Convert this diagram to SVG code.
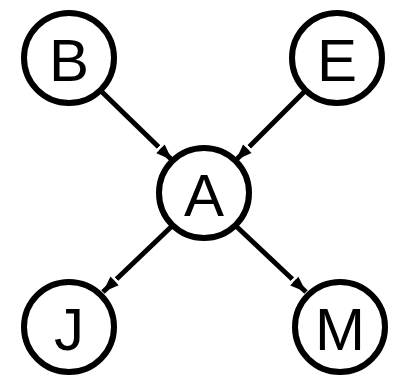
<svg xmlns="http://www.w3.org/2000/svg" width="399" height="378" viewBox="0 0 399 378">
<defs>
<marker id="ah" viewBox="0 0 20 14" refX="19" refY="7" markerWidth="20" markerHeight="14" markerUnits="userSpaceOnUse" orient="auto">
<rect x="0" y="3.5" width="3" height="7" fill="#fff"/>
<path d="M3,1 L19,7 L3,13 z" fill="#000"/>
</marker>
<style>
.node circle{fill:#fff;stroke:#000;stroke-width:6}
.node text{font-family:"Liberation Sans",Arial,sans-serif;font-size:60px;fill:#000;text-anchor:middle;dominant-baseline:central}
.edges line{stroke:#000;stroke-width:5;marker-end:url(#ah)}
</style>
</defs>
<rect width="399" height="378" fill="#fff"/>
<g class="edges">
<line x1="101" y1="91" x2="172" y2="160"/>
<line x1="305" y1="91" x2="236" y2="160"/>
<line x1="171" y1="227" x2="103" y2="292"/>
<line x1="237" y1="227" x2="306" y2="292"/>
</g>
<g id="B" class="node"><circle cx="69" cy="58" r="45"/><text x="69" y="60">B</text></g>
<g id="E" class="node"><circle cx="337" cy="58" r="45"/><text x="337" y="60">E</text></g>
<g id="A" class="node"><circle cx="204" cy="193" r="45"/><text x="204" y="195">A</text></g>
<g id="J" class="node"><circle cx="69" cy="327" r="45"/><text x="69" y="329">J</text></g>
<g id="M" class="node"><circle cx="340" cy="327" r="45"/><text x="340" y="329">M</text></g>
</svg>
